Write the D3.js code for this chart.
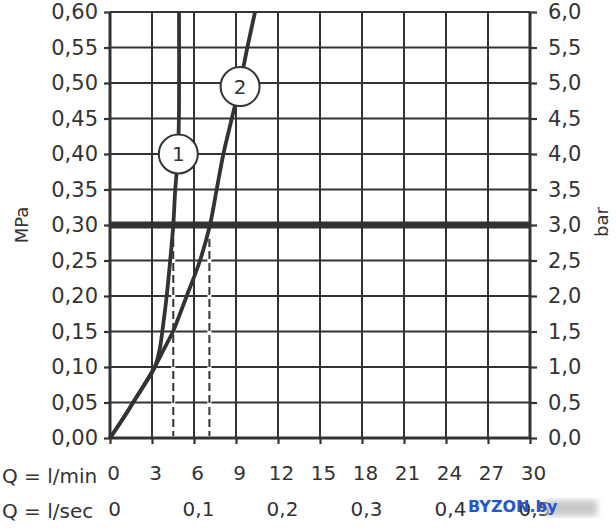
<!DOCTYPE html>
<html>
<head>
<meta charset="utf-8">
<script src="https://cdn.jsdelivr.net/npm/d3@7/dist/d3.min.js"></script>
<style>
  html, body { margin: 0; padding: 0; background: #fff; }
  svg { display: block; }
  text { font-family: "DejaVu Sans", sans-serif; fill: #333; }
</style>
</head>
<body>
<svg id="chart" width="616" height="528"></svg>
<script>
// ---- data ----
const flowTicks = [0, 3, 6, 9, 12, 15, 18, 21, 24, 27, 30];          // l/min
const secTicks = [0, 0.1, 0.2, 0.3, 0.4, 0.5];                       // l/sec
const mpaTicks = [0, 0.05, 0.10, 0.15, 0.20, 0.25, 0.30, 0.35, 0.40, 0.45, 0.50, 0.55, 0.60];
const barTicks = [0, 0.5, 1, 1.5, 2, 2.5, 3, 3.5, 4, 4.5, 5, 5.5, 6];

const curve1Q = [0, 0.85, 1.65, 2.45, 3.2, 3.55, 3.8, 4.05, 4.3, 4.52, 4.66, 4.78, 4.9, 4.93, 4.93];
const curve1P = [0, 0.025, 0.05, 0.075, 0.10, 0.125, 0.16, 0.20, 0.25, 0.30, 0.35, 0.38, 0.43, 0.47, 0.60];

const curve2Q = [0, 0.85, 1.65, 2.45, 3.2, 3.85, 4.5, 5.0, 5.48, 6.43, 7.14, 7.62, 8.1, 8.7, 9.3, 9.81, 10.36];
const curve2P = [0, 0.025, 0.05, 0.075, 0.10, 0.125, 0.15, 0.175, 0.20, 0.25, 0.30, 0.35, 0.40, 0.45, 0.50, 0.55, 0.60];

const refP = 0.30;               // bold reference pressure
const dropQ = [4.52, 7.1];       // flow at reference pressure
const markerQ = [4.88, 9.29];
const markerP = [0.40, 0.495];
const markerLabels = ["1", "2"];

// ---- scales ----
const svg = d3.select("#chart");
const x = d3.scaleLinear().domain([0, 30]).range([110, 530]);
const xSec = d3.scaleLinear().domain([0, 0.5]).range([110, 530]);
const y = d3.scaleLinear().domain([0, 0.6]).range([438, 12]);
const yBar = d3.scaleLinear().domain([0, 6]).range([438, 12]);
const ink = "#333";
const comma = f => v => d3.format(f)(v).replace(".", ",");

// ---- grid ----
const grid = svg.append("g");
grid.selectAll("line.v").data(flowTicks).join("line")
  .attr("x1", d => x(d)).attr("x2", d => x(d))
  .attr("y1", y(0.6)).attr("y2", y(0))
  .attr("stroke", ink)
  .attr("stroke-width", (d, i) => (i === 0 || i === flowTicks.length - 1) ? 3 : 2);
grid.selectAll("line.h").data(mpaTicks).join("line")
  .attr("x1", x(0)).attr("x2", x(30))
  .attr("y1", d => y(d)).attr("y2", d => y(d))
  .attr("stroke", ink)
  .attr("stroke-width", (d, i) => (i === 0) ? 3 : 2.2);

// ---- axes ticks ----
const left = svg.append("g").attr("transform", `translate(${x(0)},0)`)
  .call(d3.axisLeft(y).tickValues(mpaTicks).tickSize(6).tickPadding(6).tickFormat(comma(".2f")));
const right = svg.append("g").attr("transform", `translate(${x(30)},0)`)
  .call(d3.axisRight(yBar).tickValues(barTicks).tickSize(7).tickPadding(11).tickFormat(comma(".1f")));
const bottomTicks = svg.append("g").attr("transform", `translate(0,${y(0)})`)
  .call(d3.axisBottom(x).tickValues(flowTicks).tickSize(6).tickFormat(""));
const row1 = svg.append("g").attr("transform", `translate(3,466)`)
  .call(d3.axisBottom(x).tickValues(flowTicks).tickSize(0).tickPadding(0).tickFormat(d3.format("d")));
const row2 = svg.append("g").attr("transform", `translate(4,502)`)
  .call(d3.axisBottom(xSec).tickValues(secTicks).tickSize(0).tickPadding(0).tickFormat(v => v === 0 ? "0" : comma(".1f")(v)));

[left, right, bottomTicks, row1, row2].forEach(g => {
  g.select(".domain").remove();
  g.selectAll(".tick line").attr("stroke", ink).attr("stroke-width", 2.2);
  g.selectAll(".tick text").attr("font-size", 20).attr("fill", ink)
    .attr("font-family", "'DejaVu Sans', sans-serif");
});
left.selectAll(".tick text").attr("font-size", 21);
right.selectAll(".tick text").attr("font-size", 21);

svg.append("text").attr("x", 2).attr("y", 483).attr("font-size", 20).text("Q = l/min");
svg.append("text").attr("x", 2).attr("y", 518).attr("font-size", 20).text("Q = l/sec");

svg.append("text").attr("transform", "translate(28,225) rotate(-90)")
  .attr("text-anchor", "middle").attr("font-size", 18).text("MPa");
svg.append("text").attr("transform", "translate(608,222) rotate(-90)")
  .attr("text-anchor", "middle").attr("font-size", 18).text("bar");

// ---- reference line ----
svg.append("line")
  .attr("x1", x(0)).attr("x2", x(30))
  .attr("y1", y(refP)).attr("y2", y(refP))
  .attr("stroke", ink).attr("stroke-width", 7);

// ---- dashed drops ----
svg.selectAll("line.drop").data(dropQ).join("line")
  .attr("x1", d => x(d)).attr("x2", d => x(d))
  .attr("y1", y(refP) + 14).attr("y2", y(0) - 2)
  .attr("stroke", "#fff").attr("stroke-width", 4);
svg.selectAll("line.drop2").data(dropQ).join("line")
  .attr("x1", d => x(d)).attr("x2", d => x(d))
  .attr("y1", y(refP) + 14).attr("y2", y(0) - 2)
  .attr("stroke", ink).attr("stroke-width", 2)
  .attr("stroke-dasharray", "8,4");

// ---- curves ----
const line = d3.line().x(d => x(d[0])).y(d => y(d[1])).curve(d3.curveCatmullRom.alpha(0.5));
svg.append("path").datum(curve2Q.map((q, i) => [q, curve2P[i]]))
  .attr("d", line).attr("fill", "none").attr("stroke", ink).attr("stroke-width", 3.8);
svg.append("path").datum(curve1Q.map((q, i) => [q, curve1P[i]]))
  .attr("d", line).attr("fill", "none").attr("stroke", ink).attr("stroke-width", 3.8);

// ---- markers ----
const mk = svg.selectAll("g.mk").data(markerLabels).join("g")
  .attr("transform", (d, i) => `translate(${x(markerQ[i])},${y(markerP[i])})`);
mk.append("circle").attr("r", 19.5).attr("fill", "#fff").attr("stroke", ink).attr("stroke-width", 2);
mk.append("text").attr("text-anchor", "middle").attr("dy", "0.36em")
  .attr("font-size", 20).text(d => d);

// ---- watermark ----
const defs = svg.append("defs");
defs.append("filter").attr("id", "blur").append("feGaussianBlur").attr("stdDeviation", 3);
svg.append("rect").attr("x", 545).attr("y", 500).attr("width", 52).attr("height", 16)
  .attr("fill", "#c8c8c8").attr("filter", "url(#blur)");
svg.append("text").attr("x", 468).attr("y", 512)
  .attr("font-family", "'Liberation Sans', Arial, sans-serif").attr("font-weight", "bold")
  .attr("font-size", 16).style("fill", "#2456d0").text("BYZON.by");
</script>
</body>
</html>
